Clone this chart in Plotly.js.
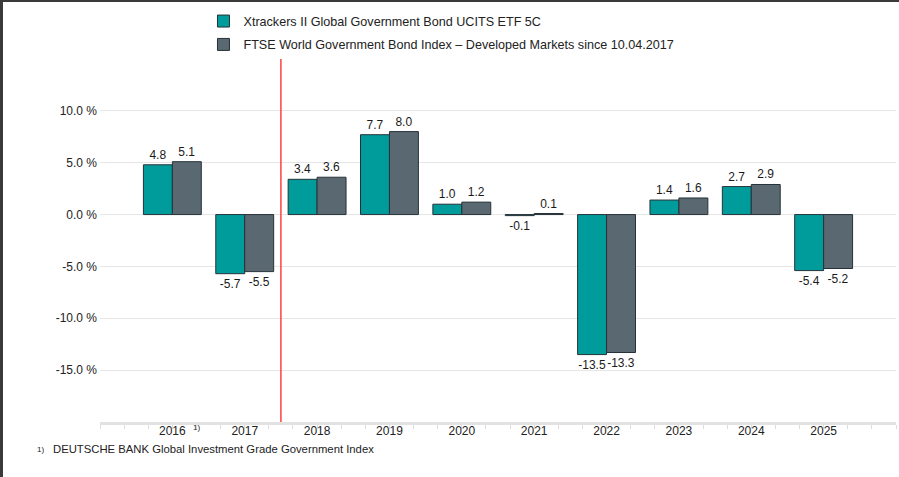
<!DOCTYPE html>
<html>
<head>
<meta charset="utf-8">
<script src="https://cdn.plot.ly/plotly-3.0.1.min.js"></script>
<style>
html,body{margin:0;padding:0;background:#fff;}
#wrap{position:absolute;left:0;top:0;width:899px;height:477px;box-sizing:border-box;border-left:3px solid #3a3a3a;border-top:2px solid #3a3a3a;}
#chart{position:absolute;left:-3px;top:-2px;width:899px;height:477px;}
</style>
</head>
<body>
<div id="wrap"><div id="chart"></div></div>
<script>
const years = ["2016","2017","2018","2019","2020","2021","2022","2023","2024","2025"];
const etfName = "Xtrackers II Global Government Bond UCITS ETF 5C";
const idxName = "FTSE World Government Bond Index \u2013 Developed Markets since 10.04.2017";
const etfValues = [4.8, -5.7, 3.4, 7.7, 1.0, -0.1, -13.5, 1.4, 2.7, -5.4];
const idxValues = [5.1, -5.5, 3.6, 8.0, 1.2, 0.1, -13.3, 1.6, 2.9, -5.2];
const yTickVals = [-20, -15, -10, -5, 0, 5, 10, 15];
const yTickText = ["", "-15.0 %", "-10.0 %", "-5.0 %", "0.0 %", "5.0 %", "10.0 %", ""];
const footnoteMark = "1)";
const footnote = "DEUTSCHE BANK Global Investment Grade Government Index";

const xIdx = years.map((_, i) => i);
const fam = "Liberation Sans, Arial, sans-serif";

const traces = [
  {type: "bar", name: etfName, x: xIdx, y: etfValues, legendgroup: "a",
   marker: {color: "#009c9c", line: {color: "#263238", width: 1}},
   text: etfValues.map(v => v.toFixed(1)), textposition: "outside",
   textfont: {family: fam, size: 12, color: "#1a1a1a"}, cliponaxis: false,
   hoverinfo: "none"},
  {type: "bar", name: idxName, x: xIdx, y: idxValues, legendgroup: "b",
   marker: {color: "#5a6872", line: {color: "#263238", width: 1}},
   text: idxValues.map(v => v.toFixed(1)), textposition: "outside",
   textfont: {family: fam, size: 12, color: "#1a1a1a"}, cliponaxis: false,
   hoverinfo: "none"}
];

const layout = {
  width: 899, height: 477,
  margin: {l: 100, r: 3, t: 59, b: 55},
  paper_bgcolor: "rgba(0,0,0,0)", plot_bgcolor: "#fff",
  font: {family: fam, size: 12, color: "#222"},
  barmode: "group", bargap: 0.2, bargroupgap: 0,
  showlegend: true,
  legend: {orientation: "v", x: 0.13, xanchor: "left", y: 1.145, yanchor: "top",
           font: {family: fam, size: 12.6, color: "#222"}, bgcolor: "rgba(0,0,0,0)",
           traceorder: "grouped", tracegroupgap: 4},
  xaxis: {range: [-1, 10], tickvals: xIdx, ticktext: years, ticks: "", ticklen: 0,
          ticklabelstandoff: -4,
          showgrid: false, zeroline: false, showline: true, linecolor: "#e2e2e2", linewidth: 3,
          tickfont: {family: fam, size: 12, color: "#222"},
          minor: {dtick: 1/3, tick0: -1, ticks: "outside", ticklen: 4, tickcolor: "#dddddd", tickwidth: 1, showgrid: false},
          fixedrange: true},
  yaxis: {range: [-20, 15], tickvals: yTickVals, ticktext: yTickText,
          showgrid: true, gridcolor: "#e6e6e6", gridwidth: 1, zeroline: false,
          showline: false, ticks: "", ticklabelstandoff: 2,
          tickfont: {family: fam, size: 12, color: "#222"}, fixedrange: true},
  shapes: [
    {type: "line", xref: "x", yref: "paper", x0: 1.5, x1: 1.5, y0: 0, y1: 1,
     line: {color: "#ff4040", width: 1.5}}
  ],
  annotations: [
    {xref: "x", yref: "paper", x: 0, y: 0, yshift: 1, xshift: 24, text: footnoteMark,
     showarrow: false, font: {family: fam, size: 8, color: "#222"}, yanchor: "top"},
    {xref: "paper", yref: "paper", x: -0.082, xanchor: "left", y: -0.058, yanchor: "top",
     text: footnoteMark, showarrow: false, font: {family: fam, size: 8, color: "#222"}},
    {xref: "paper", yref: "paper", x: -0.062, xanchor: "left", y: -0.052, yanchor: "top",
     text: footnote, showarrow: false, font: {family: fam, size: 11.3, color: "#222"}}
  ]
};

Plotly.newPlot("chart", traces, layout, {displayModeBar: false, staticPlot: true});
</script>
</body>
</html>
